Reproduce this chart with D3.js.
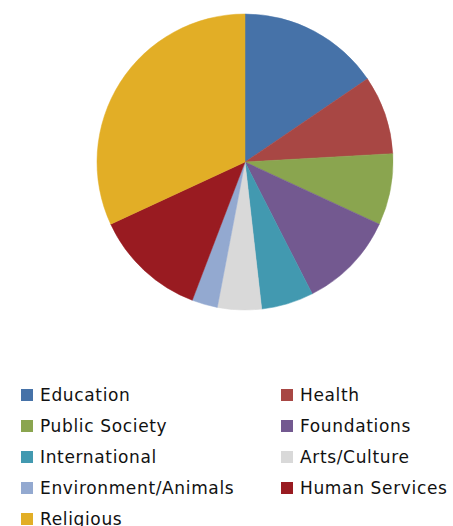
<!DOCTYPE html>
<html>
<head>
<meta charset="utf-8">
<script src="https://cdn.jsdelivr.net/npm/d3@7"></script>
<style>
  body { margin: 0; background: #fff; }
  svg { display: block; }
</style>
</head>
<body>
<div id="chart"></div>
<script>
// share of giving by sector (%)
const categories = ['Education', 'Health', 'Public Society', 'Foundations', 'International',
                    'Arts/Culture', 'Environment/Animals', 'Human Services', 'Religious'];
const values = [15.5, 8.6, 7.8, 10.6, 5.7, 4.8, 2.8, 12.3, 31.9];
const colors = ['#4672a8', '#a84744', '#8aa54f', '#735990', '#4299b0',
                '#d9d9d9', '#93a9d0', '#991b21', '#e2ae26'];

const width = 453, height = 526;
const cx = 245, cy = 162, radius = 148;

const data = categories.map((c, i) => ({ name: c, value: values[i], color: colors[i] }));

const svg = d3.select('#chart').append('svg')
    .attr('width', width)
    .attr('height', height);

const pie = d3.pie()
    .sort(null)
    .value(d => d.value);

const arc = d3.arc()
    .innerRadius(0)
    .outerRadius(radius);

const g = svg.append('g')
    .attr('transform', `translate(${cx}, ${cy})`);

g.selectAll('path')
  .data(pie(data))
  .join('path')
    .attr('d', arc)
    .attr('fill', d => d.data.color)
    .attr('stroke', d => d.data.color)
    .attr('stroke-width', 0.5);

// Legend, two columns
const colX = [21, 281];
const rowY = d3.scaleLinear().domain([0, 4]).range([401, 525]);

const legend = svg.append('g').attr('class', 'legend');
const item = legend.selectAll('g')
  .data(data)
  .join('g')
    .attr('transform', (d, i) => `translate(${colX[i % 2]}, ${rowY(Math.floor(i / 2))})`);

item.append('rect')
    .attr('x', 0)
    .attr('y', -12)
    .attr('width', 12)
    .attr('height', 12)
    .attr('fill', d => d.color);

item.append('text')
    .attr('x', 19)
    .attr('y', 0)
    .style('font-family', '"DejaVu Sans", sans-serif')
    .style('font-size', '17px')
    .style('letter-spacing', '0.65px')
    .style('fill', '#111')
    .text(d => d.name);
</script>
</body>
</html>
